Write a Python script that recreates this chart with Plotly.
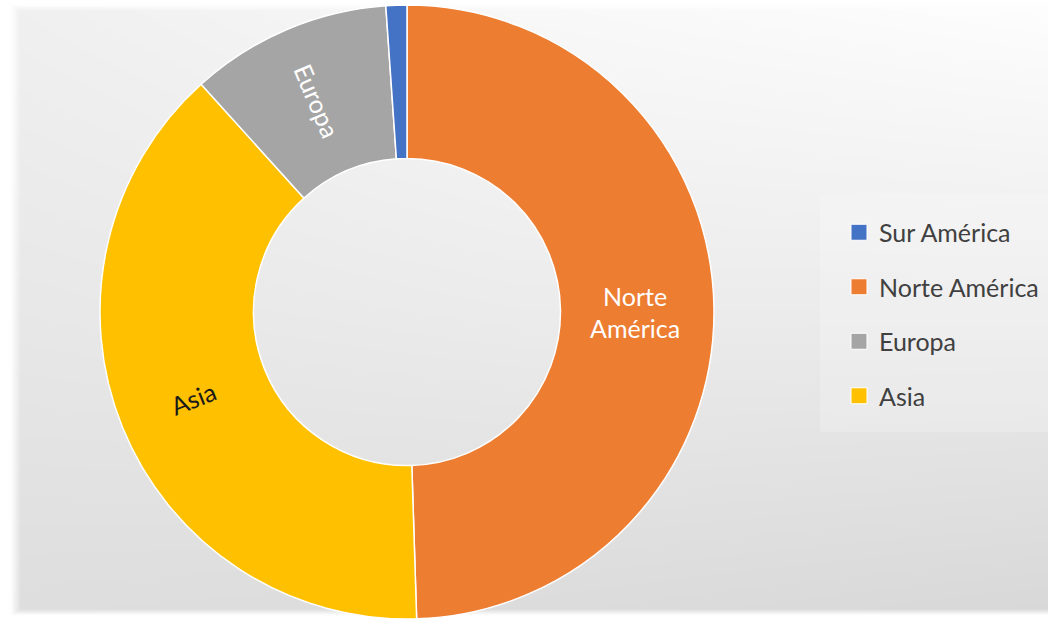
import base64
import struct
import zlib

import numpy as np
import plotly.graph_objects as go

# ---- data -------------------------------------------------------------
regions = ["Sur América", "Norte América", "Europa", "Asia"]
shares = [1.1, 49.5, 10.6, 38.8]
colors = ["#4472C4", "#ED7D31", "#A5A5A5", "#FFC000"]
slice_text = ["", "Norte<br>América", "Europa", "Asia"]
text_colors = ["#FFFFFF", "#FFFFFF", "#FFFFFF", "#1A1A1A"]

# order of the slices around the ring, clockwise from 12 o'clock
ring_order = [1, 3, 2, 0]

W, H = 1048, 620
FONT = "Lato"
HOLE = 0.5
LABEL_SIZE = 25

# pie box in pixels (square, so the radius is half its side)
PIE_X0, PIE_X1 = 100, 714
PIE_Y0, PIE_Y1 = 5, 619


# ---- soft grey background (grayscale PNG built in memory) --------------
def gray_png(arr):
    h, w = arr.shape
    raw = b"".join(b"\x00" + arr[r].tobytes() for r in range(h))

    def chunk(tag, data):
        c = struct.pack(">I", len(data)) + tag + data
        return c + struct.pack(">I", zlib.crc32(tag + data) & 0xFFFFFFFF)

    png = b"\x89PNG\r\n\x1a\n"
    png += chunk(b"IHDR", struct.pack(">IIBBBBB", w, h, 8, 0, 0, 0, 0))
    png += chunk(b"IDAT", zlib.compress(raw, 9))
    png += chunk(b"IEND", b"")
    return "data:image/png;base64," + base64.b64encode(png).decode()


gw, gh = W // 2, H // 2
xs = np.linspace(0, 1, gw)[None, :]
ys = np.linspace(0, 1, gh)[:, None]
# tone control points: rows = top / middle / bottom, cols = left / centre / right
ctrl = np.array([[240, 249, 254],
                 [232, 236, 236],
                 [222, 220, 216]], dtype=float)
cx = np.array([0.0, 0.5, 1.0])
rows = np.stack([np.interp(xs[0], cx, ctrl[i]) for i in range(3)])
tone = np.empty((gh, gw))
for j in range(gw):
    tone[:, j] = np.interp(ys[:, 0], cx, rows[:, j])
px = xs * W + 0 * ys
py = ys * H + 0 * xs
edge = np.maximum.reduce([
    np.clip((20 - px) / 10, 0, 1),
    np.clip((10 - py) / 6, 0, 1),
    np.clip((py - 610) / 6, 0, 1),
])
tone = tone * (1 - edge) + 255 * edge
bg = gray_png(np.clip(tone, 0, 255).astype(np.uint8))

# ---- figure -------------------------------------------------------------
fig = go.Figure()

pie_text = [slice_text[i] for i in ring_order]
# "Asia" is written along its radius with an annotation below
pie_text[ring_order.index(3)] = ""

fig.add_trace(go.Pie(
    labels=[regions[i] for i in ring_order],
    values=[shares[i] for i in ring_order],
    text=pie_text,
    marker=dict(colors=[colors[i] for i in ring_order],
                line=dict(color="#FFFFFF", width=1.5)),
    textfont=dict(family=FONT, size=LABEL_SIZE,
                  color=[text_colors[i] for i in ring_order]),
    hole=HOLE,
    sort=False,
    direction="clockwise",
    rotation=0,
    textinfo="text",
    textposition="inside",
    insidetextorientation="radial",
    hoverinfo="label+percent",
    showlegend=False,
    domain=dict(x=[PIE_X0 / W, PIE_X1 / W],
                y=[1 - PIE_Y1 / H, 1 - PIE_Y0 / H]),
))

# radial label for Asia, centred on the slice's mid-angle in the ring
total = float(sum(shares))
start = 0.0
annotations = []
for i in ring_order:
    sweep = 360.0 * shares[i] / total
    if i == 3:
        mid_deg = start + sweep / 2
        mid = np.radians(mid_deg)
        r_out = (PIE_X1 - PIE_X0) / 2
        r_mid = r_out * (1 + HOLE) / 2
        ccx = (PIE_X0 + PIE_X1) / 2
        ccy = (PIE_Y0 + PIE_Y1) / 2
        lx = ccx + r_mid * np.sin(mid)
        ly = ccy - r_mid * np.cos(mid)
        annotations.append(dict(
            text=slice_text[i], x=lx / W, y=1 - ly / H,
            xref="paper", yref="paper", showarrow=False,
            xanchor="center", yanchor="middle",
            textangle=mid_deg - 270,
            font=dict(family=FONT, size=LABEL_SIZE, color=text_colors[i]),
        ))
    start += sweep

# legend entries in series order
for name, col in zip(regions, colors):
    fig.add_trace(go.Scatter(
        x=[None], y=[None], mode="markers", name=name, legendgroup=name,
        marker=dict(symbol="square", size=20, color=col,
                    line=dict(color="#FFFFFF", width=1)),
        hoverinfo="skip",
    ))

fig.update_layout(
    width=W, height=H,
    margin=dict(l=0, r=0, t=0, b=0),
    paper_bgcolor="#FFFFFF",
    plot_bgcolor="rgba(0,0,0,0)",
    xaxis=dict(visible=False),
    yaxis=dict(visible=False),
    images=[dict(source=bg, xref="paper", yref="paper", x=0, y=1,
                 sizex=1, sizey=1, xanchor="left", yanchor="top",
                 sizing="stretch", layer="below")],
    shapes=[dict(type="rect", xref="paper", yref="paper",
                 x0=820 / W, x1=1048 / W, y0=1 - 432 / H, y1=1 - 194 / H,
                 fillcolor="rgba(255,255,255,0.2)", line=dict(width=0),
                 layer="below")],
    annotations=annotations,
    legend=dict(
        xref="paper", yref="paper",
        x=839 / W, y=1 - 314 / H, xanchor="left", yanchor="middle",
        traceorder="grouped", tracegroupgap=19,
        font=dict(family=FONT, size=25, color="#404040"),
        bgcolor="rgba(0,0,0,0)",
    ),
    font=dict(family=FONT),
)

fig.write_html("out.html")
